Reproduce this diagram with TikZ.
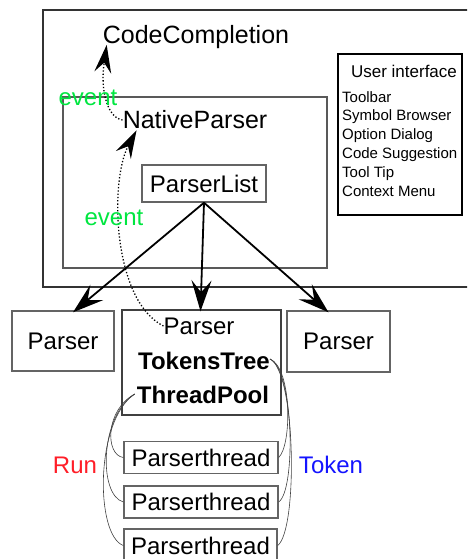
\documentclass[tikz,border=0pt]{standalone}
\usepackage{fontspec}
\setmainfont{Liberation Sans}
\usetikzlibrary{arrows.meta,calc}
\definecolor{evgreen}{RGB}{0,230,64}
\definecolor{runred}{RGB}{255,30,40}
\definecolor{tokblue}{RGB}{20,20,255}
\definecolor{boxgray}{RGB}{100,100,100}
\tikzset{
  fs/.style={font=\fontsize{#1}{#1}\selectfont},
  txt/.style={inner sep=0pt, fs=24},
  gbox/.style={draw=boxgray, line width=1.4pt, inner sep=0pt, fs=24},
  bigarrow/.style={line width=1.8pt, -{Stealth[length=31pt,width=20pt,inset=12pt]}},
  evarrow/.style={line width=1.3pt, dotted, -{Stealth[length=28pt,width=17pt,inset=10pt,line width=0pt]}},
  thin/.style={line width=0.6pt, draw=black!75},
  evlabel/.style={inner sep=0pt, fs=24, text=evgreen},
}
\begin{document}
\begin{tikzpicture}[x=1pt,y=-1pt]
\useasboundingbox (0,0) rectangle (467,559);
\clip (0,0) rectangle (467,559);
% outer and inner frames
\draw[draw=black!80, line width=1.5pt] (43,10) rectangle (480,287);
\draw[draw=black!65, line width=1.2pt] (63,97) rectangle (327,268);
% text nodes
\node[txt, fs=25] (cc) at (196,37) {CodeCompletion};
\node[txt, fs=25] (np) at (195,120) {NativeParser};
\node[gbox, minimum width=124pt, minimum height=37pt] (pl) at (204,183.5) {ParserList};
% user interface box
\node[draw=black, line width=1.6pt, minimum width=124pt, minimum height=161pt, inner sep=0pt] (ui) at (400,134.5) {};
\node[inner sep=0pt, fs=17] (uit) at (404,71) {User interface};
\node[inner sep=0pt, font=\fontsize{15}{18.9}\selectfont, anchor=north west, align=left] (uil) at (342,91)
  {Toolbar\\Symbol Browser\\Option Dialog\\Code Suggestion\\Tool Tip\\Context Menu};
% parsers
\node[gbox, minimum width=102pt, minimum height=60pt] (p1) at (63,341) {Parser};
\node[draw=black!75, line width=1.4pt, minimum width=159pt, minimum height=105pt, inner sep=0pt] (p2) at (201.5,362.5) {};
\node[gbox, minimum width=103pt, minimum height=61pt] (p3) at (338.5,341.5) {Parser};
\node[txt] (pm) at (199,326) {Parser};
\node[txt, font=\fontsize{24}{24}\selectfont\bfseries] (tt) at (204,361) {TokensTree};
\node[txt, font=\fontsize{24}{24}\selectfont\bfseries] (tp) at (203,395) {ThreadPool};
% parser threads
\node[gbox, minimum width=154pt, minimum height=32pt] (t1) at (201,457.5) {Parserthread};
\node[gbox, minimum width=154pt, minimum height=32pt] (t2) at (201,502) {Parserthread};
\node[gbox, minimum width=153pt, minimum height=33pt] (t3) at (200.5,545.5) {Parserthread};
% labels
\node[inner sep=0pt, fs=24, text=runred] (run) at (75,465) {Run};
\node[inner sep=0pt, fs=24, text=tokblue] (tok) at (331,465) {Token};
% main arrows
\draw[bigarrow] (pl.south) -- ($(p1.north)+(10,2)$);
\draw[bigarrow] (pl.south) -- ($(p2.north)+(-1,2)$);
\draw[bigarrow] (pl.south) -- ($(p3.north)+(-10,2)$);
% event arrows
\draw[evarrow] (np.west) .. controls (108,118) and (100,92) .. ($(cc.south west)+(4,-4)$);
\draw[evarrow] (pm.west) .. controls (112,300) and (110,180) .. ($(np.south west)+(14,1)$);
\node[evlabel] (ev1) at (88,98) {event};
\node[evlabel] (ev2) at (114,218) {event};
% run curves
\draw[thin] ($(tp.west)+(-2,-1)$) .. controls (105,410) and (105,455) .. (t1.west);
\draw[thin] ($(tp.west)+(-2,-1)$) .. controls (100,415) and (98,495) .. (t2.west);
\draw[thin] ($(tp.west)+(-2,-1)$) .. controls (95,420) and (95,535) .. (t3.west);
% token curves
\draw[thin] ($(tt.east)+(0,-2)$) .. controls (292,368) and (292,445) .. (t1.east);
\draw[thin] ($(tt.east)+(0,-2)$) .. controls (294,370) and (296,490) .. (t2.east);
\draw[thin] ($(tt.east)+(0,-2)$) .. controls (296,372) and (298,530) .. (t3.east);
\end{tikzpicture}
\end{document}
